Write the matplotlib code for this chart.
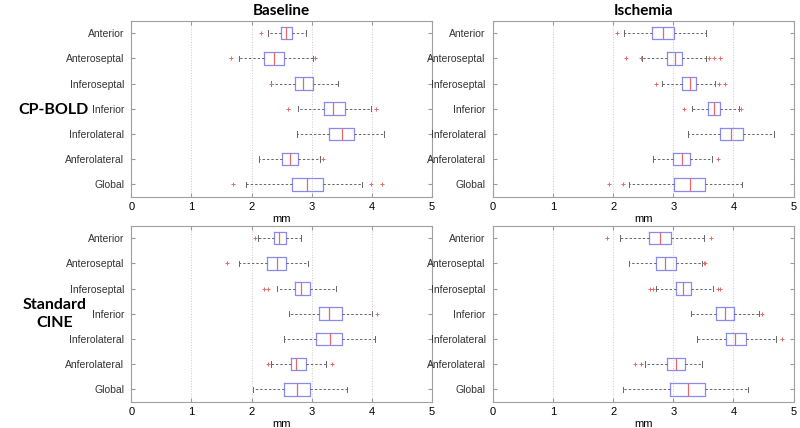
import matplotlib.pyplot as plt

regions = ["Anterior", "Anteroseptal", "Inferoseptal", "Inferior",
           "Inferolateral", "Anferolateral", "Global"]
col_titles = ["Baseline", "Ischemia"]
row_titles = ["CP-BOLD", "Standard\nCINE"]
xticks = [0, 1, 2, 3, 4, 5]

# CP-BOLD, baseline
bb_lo = [2.28, 1.80, 2.33, 2.77, 2.76, 2.12, 1.91]
bb_q1 = [2.49, 2.20, 2.72, 3.20, 3.28, 2.51, 2.67]
bb_med = [2.57, 2.37, 2.85, 3.36, 3.50, 2.64, 2.93]
bb_q3 = [2.67, 2.54, 3.02, 3.55, 3.70, 2.77, 3.18]
bb_hi = [2.91, 3.02, 3.43, 3.99, 4.21, 3.14, 3.84]
bb_out = [[2.15], [1.66, 3.05], [2.32], [2.61, 4.07], [], [3.18], [1.69, 3.99, 4.17]]

# CP-BOLD, ischemia
bi_lo = [2.18, 2.48, 2.81, 3.31, 3.25, 2.66, 2.26]
bi_q1 = [2.65, 2.89, 3.14, 3.57, 3.77, 3.00, 3.01]
bi_med = [2.83, 3.03, 3.27, 3.67, 3.96, 3.14, 3.27]
bi_q3 = [3.02, 3.15, 3.38, 3.78, 4.16, 3.27, 3.52]
bi_hi = [3.54, 3.54, 3.69, 4.10, 4.68, 3.65, 4.15]
bi_out = [[2.07], [2.22, 2.46, 3.60, 3.67, 3.77], [2.72, 3.76, 3.86], [3.18, 4.12], [], [3.74], [1.93, 2.17]]

# Standard CINE, baseline
cb_lo = [2.11, 1.80, 2.42, 2.63, 2.54, 2.33, 2.03]
cb_q1 = [2.37, 2.25, 2.72, 3.12, 3.08, 2.65, 2.54]
cb_med = [2.46, 2.42, 2.83, 3.29, 3.30, 2.74, 2.75]
cb_q3 = [2.57, 2.57, 2.98, 3.50, 3.50, 2.90, 2.97]
cb_hi = [2.83, 2.94, 3.40, 4.01, 4.06, 3.24, 3.58]
cb_out = [[2.06], [1.59], [2.20, 2.27], [4.09], [], [2.28, 3.34], []]

# Standard CINE, ischemia
ci_lo = [2.11, 2.27, 2.72, 3.29, 3.39, 2.53, 2.16]
ci_q1 = [2.59, 2.71, 3.05, 3.71, 3.88, 2.90, 2.95]
ci_med = [2.78, 2.86, 3.16, 3.86, 4.03, 3.04, 3.25]
ci_q3 = [2.97, 3.04, 3.30, 4.01, 4.21, 3.19, 3.53]
ci_hi = [3.51, 3.48, 3.66, 4.43, 4.70, 3.48, 4.24]
ci_out = [[1.89, 3.62], [3.51, 3.53], [2.62, 2.67, 3.74, 3.77], [4.48], [4.80], [2.37, 2.46], []]

panels = [
    (bb_lo, bb_q1, bb_med, bb_q3, bb_hi, bb_out),
    (bi_lo, bi_q1, bi_med, bi_q3, bi_hi, bi_out),
    (cb_lo, cb_q1, cb_med, cb_q3, cb_hi, cb_out),
    (ci_lo, ci_q1, ci_med, ci_q3, ci_hi, ci_out),
]

fig = plt.figure(figsize=(8, 4.28), dpi=100)
plt.rcParams['font.family'] = ['Liberation Sans', 'DejaVu Sans']

W, H = 0.376, 0.412
boxes = [(0.164, 0.540), (0.616, 0.540), (0.164, 0.061), (0.616, 0.061)]

for k, (lo, q1, med, q3, hi, out) in enumerate(panels):
    ax = fig.add_axes([boxes[k][0], boxes[k][1], W, H])
    stats = []
    for i in range(len(regions)):
        stats.append(dict(whislo=lo[i], q1=q1[i], med=med[i], q3=q3[i],
                          whishi=hi[i], fliers=out[i], label=regions[i]))
    ax.bxp(stats, positions=range(1, len(regions) + 1), vert=False,
           widths=0.5, capwidths=0.22, showfliers=True,
           boxprops=dict(color='#8a8aee', lw=0.9),
           medianprops=dict(color='#e66a6a', lw=0.9),
           whiskerprops=dict(color='#666666', lw=0.7, ls=(0, (2.5, 2))),
           capprops=dict(color='#666666', lw=0.7),
           flierprops=dict(marker='+', markeredgecolor='#e66a6a',
                           markersize=3, markeredgewidth=0.7, ls='none'))
    ax.set_ylim(7.5, 0.5)
    ax.set_xlim(0, 5)
    ax.set_xticks(xticks)
    ax.set_yticks(range(1, len(regions) + 1))
    ax.set_yticklabels(regions, fontsize=7.5, color='#333333')
    ax.tick_params(axis='x', labelsize=8, direction='in', length=3,
                   top=True, color='#999999', pad=4)
    ax.tick_params(axis='y', direction='in', length=3, right=True,
                   color='#999999', pad=5)
    ax.grid(axis='x', color='#cccccc', ls=':', lw=0.7)
    ax.set_axisbelow(True)
    for s in ax.spines.values():
        s.set_color('#a0a0a0')
        s.set_linewidth(0.8)
    ax.set_xlabel('mm', fontsize=8, labelpad=1)
    if k < 2:
        ax.set_title(col_titles[k], fontsize=11, fontweight='bold',
                     family='Lato', pad=4)

fig.text(0.067, 0.742, row_titles[0], fontsize=11.5, fontweight='bold',
         family='Lato', ha='center', va='center')
fig.text(0.068, 0.267, row_titles[1], fontsize=11.5, fontweight='bold',
         family='Lato', ha='center', va='center', linespacing=1.35)

fig.savefig('out.png', dpi=100)
